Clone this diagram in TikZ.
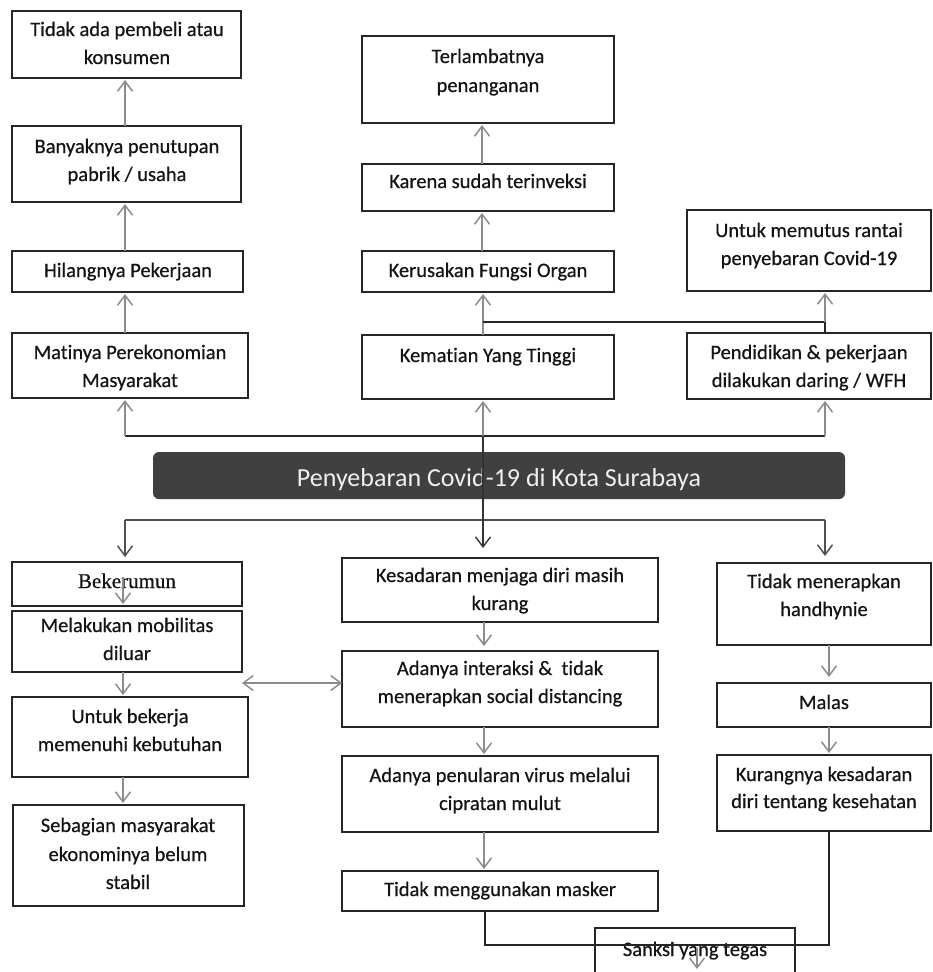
\documentclass[tikz,border=0pt]{standalone}
\usepackage{fontspec}
\setmainfont{Carlito}[Ligatures=NoCommon, FakeBold=0.6]
\newfontfamily\titlefont{Carlito}[Ligatures=NoCommon]
\newfontfamily\serifbk{Liberation Serif}[FakeBold=0.6]
\usetikzlibrary{arrows.meta,calc}
\definecolor{barfill}{HTML}{404040}
\definecolor{txtc}{HTML}{141414}
\definecolor{garrc}{HTML}{8C8C8C}
\definecolor{darrc}{HTML}{505050}
\begin{document}
\begin{tikzpicture}[x=1pt,y=-1pt,
  box/.style={draw=black!85, line width=1.3pt, inner sep=0pt, outer sep=0pt, anchor=north west},
  txt/.style={font=\fontsize{20.5}{28}\selectfont, text=txtc, inner sep=0pt, anchor=base},
  garr/.style={draw=garrc, line width=1.5pt, shorten >=2pt, -{Straight Barb[length=10pt,width=15pt]}},
  garrtwo/.style={draw=garrc, line width=1.5pt, {Straight Barb[length=10pt,width=15pt]}-{Straight Barb[length=10pt,width=15pt]}},
  darr/.style={draw=darrc, line width=1.5pt, -{Straight Barb[length=10pt,width=15pt]}},
  bline/.style={draw=black!85, line width=1.4pt},
  dline/.style={draw=darrc, line width=1.5pt},
  bararr/.style={draw=black, line width=1.4pt},
  titlebar/.style={fill=barfill, rounded corners=6pt, inner sep=0pt, outer sep=0pt, anchor=north west},
  titletxt/.style={font=\titlefont\fontsize{26}{30}\selectfont, text=white!94!black, inner sep=0pt, anchor=base}]
\useasboundingbox (0,0) rectangle (933,972);
\clip (0,0) rectangle (933,972);

% column coordinates
\coordinate (colL) at (125,0);
\coordinate (colLb) at (123,0);
\coordinate (colTM) at (482,0);
\coordinate (colM) at (483,0);
\coordinate (colMb) at (484,0);
\coordinate (colMc) at (485,0);
\coordinate (colR) at (825,0);
\coordinate (colRb) at (829,0);

% ---------- boxes ----------
\node[box, minimum width=229pt, minimum height=67pt] (b1) at (12,11) {};
\node[box, minimum width=229pt, minimum height=76pt] (b2) at (12,126) {};
\node[box, minimum width=231pt, minimum height=41pt] (b3) at (12,251) {};
\node[box, minimum width=236pt, minimum height=65pt] (b4) at (12,333) {};
\node[box, minimum width=252pt, minimum height=87pt] (b5) at (362,36) {};
\node[box, minimum width=252pt, minimum height=47pt] (b6) at (362,164) {};
\node[box, minimum width=252pt, minimum height=41pt] (b7) at (362,251) {};
\node[box, minimum width=244pt, minimum height=81pt] (b8) at (687,210) {};
\node[box, minimum width=252pt, minimum height=64pt] (b9) at (362,335) {};
\node[box, minimum width=244pt, minimum height=66pt] (b10) at (687,333) {};
\node[box, minimum width=230pt, minimum height=44pt] (b11) at (12,562) {};
\node[box, minimum width=230pt, minimum height=61pt] (b12) at (12,611) {};
\node[box, minimum width=236pt, minimum height=80pt] (b13) at (12,697) {};
\node[box, minimum width=231pt, minimum height=101pt] (b14) at (13,805) {};
\node[box, minimum width=316pt, minimum height=64pt] (b15) at (342,558) {};
\node[box, minimum width=316pt, minimum height=76pt] (b16) at (342,651) {};
\node[box, minimum width=316pt, minimum height=76pt] (b17) at (342,756) {};
\node[box, minimum width=316pt, minimum height=40pt] (b18) at (342,871) {};
\node[box, minimum width=214pt, minimum height=82pt] (b19) at (717,563) {};
\node[box, minimum width=214pt, minimum height=44pt] (b20) at (717,683) {};
\node[box, minimum width=214pt, minimum height=76pt] (b21) at (717,755) {};
\node[box, minimum width=200pt, minimum height=62pt] (b22) at (595,928) {};

% ---------- texts ----------
\node[txt] (t1a) at (127,36) {Tidak ada pembeli atau};
\node[txt] (t1b) at (127,64) {konsumen};
\node[txt] (t2a) at (127,153) {Banyaknya penutupan};
\node[txt] (t2b) at (127,181) {pabrik / usaha};
\node[txt] (t3) at (128,277) {Hilangnya Pekerjaan};
\node[txt] (t4a) at (130,359) {Matinya Perekonomian};
\node[txt] (t4b) at (130,387) {Masyarakat};
\node[txt] (t5a) at (488,63) {Terlambatnya};
\node[txt] (t5b) at (488,92) {penanganan};
\node[txt] (t6) at (488,188) {Karena sudah terinveksi};
\node[txt] (t7) at (488,277) {Kerusakan Fungsi Organ};
\node[txt] (t8a) at (809,237) {Untuk memutus rantai};
\node[txt] (t8b) at (809,265) {penyebaran Covid-19};
\node[txt] (t9) at (488,362) {Kematian Yang Tinggi};
\node[txt] (t10a) at (809,359) {Pendidikan \& pekerjaan};
\node[txt] (t10b) at (809,387) {dilakukan daring / WFH};
\node[txt, font=\serifbk\fontsize{21}{24}\selectfont] (t11) at (127,588) {Bekerumun};
\node[txt] (t12a) at (127,632) {Melakukan mobilitas};
\node[txt] (t12b) at (127,660) {diluar};
\node[txt] (t13a) at (130,723) {Untuk bekerja};
\node[txt] (t13b) at (130,751) {memenuhi kebutuhan};
\node[txt] (t14a) at (128,832) {Sebagian masyarakat};
\node[txt] (t14b) at (128,861) {ekonominya belum};
\node[txt] (t14c) at (128,889) {stabil};
\node[txt] (t15a) at (500,582) {Kesadaran menjaga diri masih};
\node[txt] (t15b) at (500,610) {kurang};
\node[txt] (t16a) at (500,675) {Adanya interaksi \&\ \ tidak};
\node[txt] (t16b) at (500,703) {menerapkan social distancing};
\node[txt] (t17a) at (500,782) {Adanya penularan virus melalui};
\node[txt] (t17b) at (500,810) {cipratan mulut};
\node[txt] (t18) at (500,896) {Tidak menggunakan masker};
\node[txt] (t19a) at (824,588) {Tidak menerapkan};
\node[txt] (t19b) at (824,616) {handhynie};
\node[txt] (t20) at (824,709) {Malas};
\node[txt] (t21a) at (824,781) {Kurangnya kesadaran};
\node[txt] (t21b) at (824,808) {diri tentang kesehatan};
\node[txt] (t22) at (695,956) {Sanksi yang tegas};

% ---------- title bar ----------
\node[titlebar, minimum width=692pt, minimum height=47pt] (bar) at (153,452) {};
\node[titletxt] (title) at (499,486) {Penyebaran Covid-19 di Kota Surabaya};

% ---------- hubs ----------
\coordinate (hubK) at (483,322);
\coordinate (hubU) at (483,436);
\coordinate (hubD) at (483,520);

% ---------- top left column ----------
\draw[garr] (b2.north -| colL) -- (b1.south -| colL);
\draw[garr] (b3.north -| colL) -- (b2.south -| colL);
\draw[garr] (b4.north -| colL) -- (b3.south -| colL);

% ---------- top middle column ----------
\draw[garr] (b6.north -| colTM) -- (b5.south -| colTM);
\draw[garr] (b7.north -| colTM) -- (b6.south -| colTM);
\draw[garr] (b9.north -| colM) -- (b7.south -| colM);
\draw[bline] (hubK) -- (hubK -| colR);
\draw[bline] (b10.north -| colR) -- (hubK -| colR);
\draw[garr] (hubK -| colR) -- (b8.south -| colR);

% ---------- upper hub ----------
\draw[bline] (hubU -| colL) -- (hubU -| colR);
\draw[garr] (hubU -| colL) -- (b4.south -| colL);
\draw[garr] (hubU) -- (b9.south -| colM);
\draw[garr] (hubU -| colR) -- (b10.south -| colR);

% ---------- lower hub ----------
\draw[dline] (hubD -| colL) -- (hubD -| colR);
\draw[darr, shorten >=5pt] (hubD -| colL) -- (b11.north -| colL);
\draw[darr, shorten >=7pt] (hubD -| colR) -- (b19.north -| colR);

% ---------- left lower column ----------
\coordinate (kin) at (123,577);
\draw[garr, shorten >=7pt] (kin) -- (b12.north -| colLb);
\draw[garr] (b12.south -| colLb) -- (b13.north -| colLb);
\draw[garr] (b13.south -| colLb) -- (b14.north -| colLb);
\coordinate (dL) at (242,683);
\draw[garrtwo] (dL) -- (dL -| b16.west);

% ---------- middle lower column ----------
\draw[garr, shorten >=5pt] (b15.south -| colMb) -- (b16.north -| colMb);
\draw[garr] (b16.south -| colMb) -- (b17.north -| colMb);
\draw[garr] (b17.south -| colMb) -- (b18.north -| colMb);
\coordinate (jn) at (0,945);
\draw[bline] (b18.south -| colMc) -- (jn -| colMc) -- (jn -| colRb) -- (b21.south -| colRb);

% ---------- right lower column ----------
\draw[garr, shorten >=6pt] (b19.south -| colRb) -- (b20.north -| colRb);
\draw[garr] (b20.south -| colRb) -- (b21.north -| colRb);

% ---------- sanksi arrow ----------
\coordinate (sk) at (697,948);
\coordinate (skend) at (697,969);
\draw[garr, shorten >=0pt] (sk) -- (skend);

% ---------- main vertical line through the bar ----------
\draw[bararr, -{Straight Barb[length=10pt,width=15pt]}, draw=black!80, shorten >=10pt] (hubU) -- (b15.north -| colM);
\end{tikzpicture}
\end{document}
